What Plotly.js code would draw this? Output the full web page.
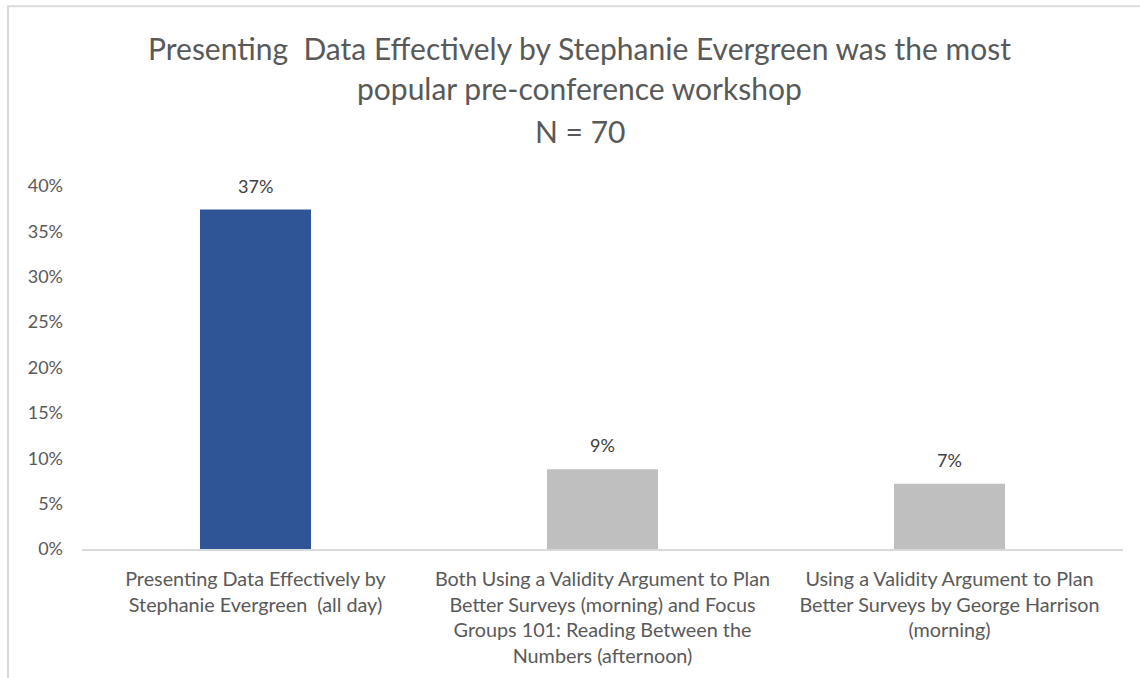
<!DOCTYPE html>
<html>
<head>
<meta charset="utf-8">
<script src="https://cdn.plot.ly/plotly-3.0.1.min.js"></script>
<style>
html,body{margin:0;padding:0;background:#fff;}
#chart{width:1140px;height:678px;}
</style>
</head>
<body>
<div id="chart"></div>
<script>
var categories = [
  "Presenting Data Effectively by<br>Stephanie Evergreen  (all day)",
  "Both Using a Validity Argument to Plan<br>Better Surveys (morning) and Focus<br>Groups 101: Reading Between the<br>Numbers (afternoon)",
  "Using a Validity Argument to Plan<br>Better Surveys by George Harrison<br>(morning)"
];
var shares = [0.374, 0.088, 0.072];
var barColors = ["#2F5597", "#BFBFBF", "#BFBFBF"];
var titleLines = [
  "Presenting  Data Effectively by Stephanie Evergreen was the most",
  "popular pre-conference workshop",
  "N = 70"
];

var FONT = "Lato, 'Open Sans', sans-serif";

var trace = {
  type: "bar",
  x: categories,
  y: shares,
  marker: {color: barColors},
  hoverinfo: "x+y"
};

var annotations = [];
var titleY = [1.380, 1.270, 1.1515];
titleLines.forEach(function (t, i) {
  annotations.push({
    text: t, xref: "paper", yref: "paper", x: 0.478, y: titleY[i],
    xanchor: "center", yanchor: "middle", showarrow: false,
    font: {family: FONT, size: 30, color: "#595959"}
  });
});
categories.forEach(function (c, i) {
  annotations.push({
    text: Math.round(shares[i] * 100) + "%",
    x: c, y: shares[i], xref: "x", yref: "y",
    yanchor: "middle", yshift: 24, showarrow: false,
    font: {family: FONT, size: 18, color: "#404040"}
  });
});

var layout = {
  width: 1140,
  height: 678,
  margin: {l: 82, r: 17, t: 186, b: 129},
  paper_bgcolor: "#ffffff",
  plot_bgcolor: "#ffffff",
  bargap: 0.68,
  showlegend: false,
  font: {family: FONT, color: "#595959"},
  xaxis: {
    type: "category",
    showgrid: false,
    showline: true,
    linecolor: "#D9D9D9",
    linewidth: 2,
    ticks: "",
    ticklabelstandoff: 11,
    tickfont: {family: FONT, size: 19.8, color: "#595959"},
    automargin: false
  },
  yaxis: {
    range: [0, 0.4],
    dtick: 0.05,
    tickformat: ".0%",
    showgrid: false,
    zeroline: false,
    showline: false,
    ticks: "",
    ticklabelstandoff: 18,
    tickfont: {family: FONT, size: 18, color: "#595959"},
    automargin: false
  },
  annotations: annotations,
  shapes: [{
    type: "rect",
    xref: "paper", yref: "paper",
    x0: -0.0711, x1: 1.1,
    y0: -0.5, y1: 1.495,
    line: {color: "#D9D9D9", width: 2},
    fillcolor: "rgba(0,0,0,0)",
    layer: "below"
  }]
};

Plotly.newPlot("chart", [trace], layout, {displayModeBar: false, staticPlot: true});
</script>
</body>
</html>
